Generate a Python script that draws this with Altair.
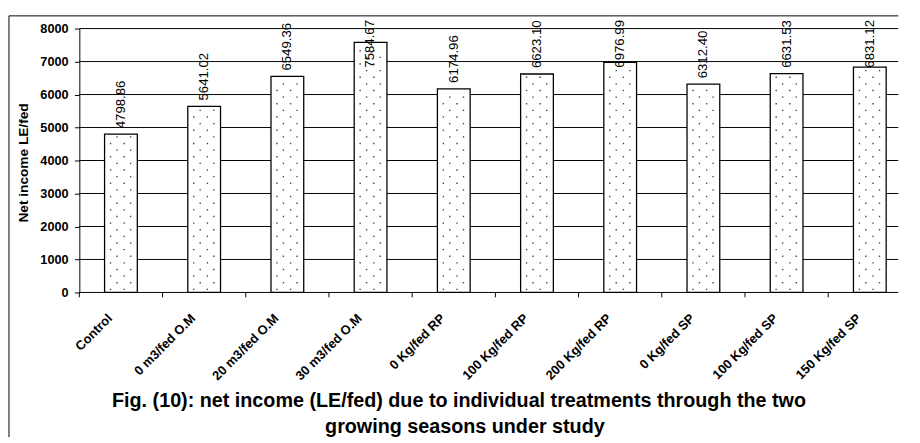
import altair as alt
import pandas as pd

categories = ["Control", "0 m3/fed O.M", "20 m3/fed O.M", "30 m3/fed O.M",
              "0 Kg/fed RP", "100 Kg/fed RP", "200 Kg/fed RP",
              "0 Kg/fed SP", "100 Kg/fed SP", "150 Kg/fed SP"]
net_income = [4798.86, 5641.02, 6549.36, 7584.67, 6174.96,
              6623.10, 6976.99, 6312.40, 6631.53, 6831.12]
y_ticks = [0, 1000, 2000, 3000, 4000, 5000, 6000, 7000, 8000]
y_title = "Net income LE/fed"
title_lines = ["Fig. (10): net income (LE/fed) due to individual treatments through the two",
               "growing seasons under study"]

df = pd.DataFrame({"cat": categories, "v": net_income})
grid_df = pd.DataFrame({"v": y_ticks})
one = pd.DataFrame({"k": [0]})

FONT = "Liberation Sans"
W, H = 838, 270
STEP = 85.14

xscale = alt.Scale(domain=categories, range=[0, STEP * 10], paddingInner=0, paddingOuter=0)
x_axis = alt.Axis(title=None, labelAngle=-45, labelAlign="right",
                  labelBaseline="middle", labelFont=FONT, labelFontSize=13.2,
                  labelFontWeight="bold", labelColor="black", labelPadding=24,
                  labelOffset=-11, domain=False, ticks=False, grid=False,
                  labelOverlap=False)
yscale = alt.Scale(domain=[0, 8000], nice=False)
y_axis = alt.Axis(values=y_ticks, format="d", title=y_title, titleFont=FONT, titleFontSize=14,
                  titleFontWeight="bold", titleColor="black", titleX=-57.5,
                  titleY=137, titleAlign="center", titleBaseline="middle",
                  labelFont=FONT, labelFontSize=13, labelFontWeight="bold",
                  labelColor="black", labelPadding=6.5, tickSize=5,
                  tickColor="black", domainColor="black", grid=False)


def X(**kw):
    return alt.X("cat:N", scale=xscale, axis=x_axis, **kw)


def Y():
    return alt.Y("v:Q", scale=yscale, axis=y_axis)


grid = alt.Chart(grid_df).mark_rule(color="black", strokeWidth=1).encode(
    y=Y(), x=alt.value(0), x2=alt.value(W))

bars = alt.Chart(df).mark_bar(size=33.5, fill="white", stroke="black",
                              strokeWidth=1.3).encode(x=X(), y=Y())

dots = (alt.Chart(df)
        .transform_calculate(rows="sequence(93, datum.v - 60, 201)")
        .transform_flatten(["rows"])
        .transform_calculate(par="round((datum.rows - 93) / 201) % 2")
        .transform_calculate(cols="datum.par == 0 ? [31.9, 45.9] : [38.5, 52.5]")
        .transform_flatten(["cols"])
        .transform_calculate(v="datum.rows")
        .mark_square(size=2, color="#444444", opacity=1)
        .encode(x=X(), y=Y(),
                xOffset=alt.XOffset("cols:Q", scale=alt.Scale(domain=[0, STEP], range=[0, STEP]))))

xticks = alt.Chart(df).mark_rule(color="black", strokeWidth=1).encode(
    x=X(bandPosition=0), y=alt.value(H), y2=alt.value(H + 5))

labels = (alt.Chart(df)
          .transform_calculate(val="datum.v")
          .transform_calculate(v="min(datum.val + 178, 6815)")
          .mark_text(angle=270, align="left", baseline="middle", font=FONT,
                     fontSize=13.5, color="black")
          .encode(x=X(), y=Y(), text=alt.Text("val:Q", format=".2f")))

frame_left = alt.Chart(one).mark_rule(color="black", strokeWidth=1).encode(
    x=alt.value(-72), y=alt.value(-13), y2=alt.value(418))
frame_top = alt.Chart(one).mark_rule(color="black", strokeWidth=1).encode(
    x=alt.value(-72), x2=alt.value(838), y=alt.value(-13))

t1 = alt.Chart(one).mark_text(font=FONT, fontSize=20.2, fontWeight="bold", align="center",
                              baseline="alphabetic", color="black").encode(
    x=alt.value(388.5), y=alt.value(387), text=alt.value(title_lines[0]))
t2 = alt.Chart(one).mark_text(font=FONT, fontSize=20.2, fontWeight="bold", align="center",
                              baseline="alphabetic", color="black").encode(
    x=alt.value(394.5), y=alt.value(414), text=alt.value(title_lines[1]))

chart = alt.layer(grid, bars, dots, xticks, labels, frame_left, frame_top, t1, t2).properties(
    width=W, height=H,
    padding={"left": 0, "top": 2, "right": 0, "bottom": 0},
    background="white",
).configure_view(strokeWidth=0)

chart.save("out.html", embed_options={"renderer": "svg", "actions": False})
